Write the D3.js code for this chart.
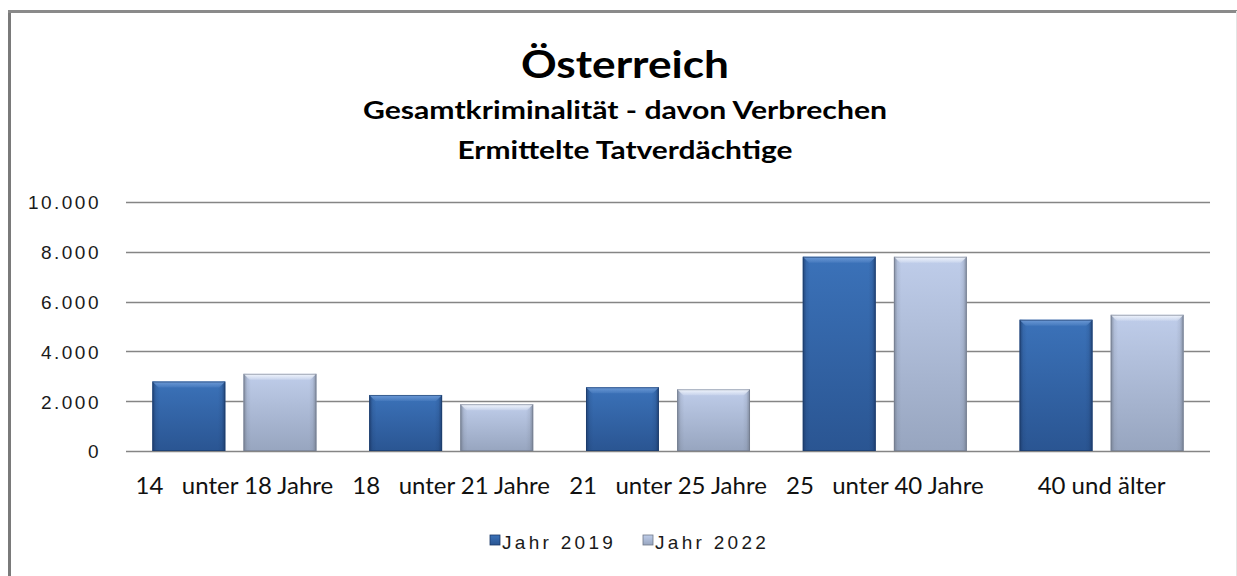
<!DOCTYPE html>
<html>
<head>
<meta charset="utf-8">
<script src="https://cdn.jsdelivr.net/npm/d3@7"></script>
<style>
  html, body { margin: 0; padding: 0; background: #fff; }
  svg { display: block; }
  text { white-space: pre; }
</style>
</head>
<body>
<svg id="chart" width="1237" height="576"></svg>
<script>
// Age groups of suspects
const categories = [
  "14   unter 18 Jahre",
  "18   unter 21 Jahre",
  "21   unter 25 Jahre",
  "25   unter 40 Jahre",
  "40 und älter"
];
const seriesNames = ["Jahr 2019", "Jahr 2022"];
const values2019 = [2790, 2250, 2560, 7800, 5270];
const values2022 = [3100, 1880, 2480, 7800, 5470];
const yTicks = [0, 2000, 4000, 6000, 8000, 10000];

const titleText = "Österreich";
const subtitle1 = "Gesamtkriminalität - davon Verbrechen";
const subtitle2 = "Ermittelte Tatverdächtige";

const svg = d3.select("#chart");
const W = 1237, H = 576;
const margin = { left: 126, right: 27, top: 202, bottom: 125 };

const rows = categories.map((c, i) => ({ cat: c, vals: [values2019[i], values2022[i]] }));

// Frame of the chart area
svg.append("line").attr("x1", 9.5).attr("x2", 9.5).attr("y1", 10).attr("y2", H)
  .attr("stroke", "#7a7a7a").attr("stroke-width", 3);
svg.append("line").attr("x1", 8).attr("x2", W).attr("y1", 11.5).attr("y2", 11.5)
  .attr("stroke", "#8a8a8a").attr("stroke-width", 3);
svg.append("line").attr("x1", 1236.5).attr("x2", 1236.5).attr("y1", 11).attr("y2", H)
  .attr("stroke", "#e4e4e4").attr("stroke-width", 1);

// Titles
const cx = 625;
svg.append("text").attr("x", cx).attr("y", 78).attr("text-anchor", "middle")
  .attr("font-family", "Lato, 'Open Sans', sans-serif").attr("font-weight", 700)
  .attr("font-size", 38).attr("fill", "#000")
  .attr("textLength", 208).attr("lengthAdjust", "spacingAndGlyphs")
  .text(titleText);
svg.append("text").attr("x", cx).attr("y", 119).attr("text-anchor", "middle")
  .attr("font-family", "Lato, 'Open Sans', sans-serif").attr("font-weight", 700)
  .attr("font-size", 25).attr("fill", "#000")
  .attr("textLength", 524).attr("lengthAdjust", "spacingAndGlyphs")
  .text(subtitle1);
svg.append("text").attr("x", cx).attr("y", 159).attr("text-anchor", "middle")
  .attr("font-family", "Lato, 'Open Sans', sans-serif").attr("font-weight", 700)
  .attr("font-size", 25).attr("fill", "#000")
  .attr("textLength", 335).attr("lengthAdjust", "spacingAndGlyphs")
  .text(subtitle2);

// Scales
const x0 = d3.scaleBand().domain(categories)
  .range([margin.left, W - margin.right])
  .paddingInner(0.2435).paddingOuter(0.2435 / 2);
const x1 = d3.scaleBand().domain(seriesNames)
  .range([0, x0.bandwidth()]).paddingInner(0.2).paddingOuter(0);
const y = d3.scaleLinear().domain([0, 10000]).range([H - margin.bottom, margin.top]);

// Gridlines
svg.append("g").selectAll("line").data(yTicks).join("line")
  .attr("x1", margin.left).attr("x2", W - margin.right)
  .attr("y1", d => Math.round(y(d)) + 0.5).attr("y2", d => Math.round(y(d)) + 0.5)
  .attr("stroke", "#858585").attr("stroke-width", 1.6);

// Y axis labels
const fmt = d => d3.format(",")(d).replace(/,/g, ".");
const yAxis = d3.axisLeft(y).tickValues(yTicks).tickFormat(fmt).tickSize(0).tickPadding(25);
const gy = svg.append("g").attr("transform", `translate(${margin.left},0)`).call(yAxis);
gy.select(".domain").remove();
gy.selectAll("text")
  .attr("font-family", "'Liberation Sans', Arial, sans-serif")
  .attr("font-size", 19).attr("fill", "#1a1a1a")
  .attr("letter-spacing", "2.5px")
  .attr("dy", "0.36em");

// Gradients for the bevelled bars
const defs = svg.append("defs");
const palettes = [
  { id: "dark", top: "#3b72b9", bottom: "#2a5592", hi: "#6d9ad6", edge: "#1b3866" },
  { id: "light", top: "#bfcdea", bottom: "#97a5bf", hi: "#f2f6fd", edge: "#6f7888" }
];
palettes.forEach(p => {
  const v = defs.append("linearGradient").attr("id", "v-" + p.id)
    .attr("x1", 0).attr("y1", 0).attr("x2", 0).attr("y2", 1);
  v.append("stop").attr("offset", "0%").attr("stop-color", p.top);
  v.append("stop").attr("offset", "100%").attr("stop-color", p.bottom);
  const h = defs.append("linearGradient").attr("id", "h-" + p.id)
    .attr("x1", 0).attr("y1", 0).attr("x2", 1).attr("y2", 0);
  h.append("stop").attr("offset", "0%").attr("stop-color", p.edge).attr("stop-opacity", 0.75);
  h.append("stop").attr("offset", "5%").attr("stop-color", p.edge).attr("stop-opacity", 0.15);
  h.append("stop").attr("offset", "10%").attr("stop-color", p.edge).attr("stop-opacity", 0);
  h.append("stop").attr("offset", "90%").attr("stop-color", p.edge).attr("stop-opacity", 0);
  h.append("stop").attr("offset", "95%").attr("stop-color", p.edge).attr("stop-opacity", 0.15);
  h.append("stop").attr("offset", "100%").attr("stop-color", p.edge).attr("stop-opacity", 0.75);
  const t = defs.append("linearGradient").attr("id", "t-" + p.id)
    .attr("x1", 0).attr("y1", 0).attr("x2", 0).attr("y2", 1);
  t.append("stop").attr("offset", "0%").attr("stop-color", p.hi).attr("stop-opacity", 1);
  t.append("stop").attr("offset", "100%").attr("stop-color", p.hi).attr("stop-opacity", 0.2);
});

// Bars
const groups = svg.append("g").selectAll("g").data(rows).join("g")
  .attr("transform", d => `translate(${x0(d.cat)},0)`);

const bars = groups.selectAll("g.bar")
  .data(d => d.vals.map((v, i) => ({ v, s: seriesNames[i], p: palettes[i] })))
  .join("g").attr("class", "bar");

const bw = x1.bandwidth();
const bevel = 6;
bars.append("rect")
  .attr("x", d => x1(d.s)).attr("y", d => y(d.v))
  .attr("width", bw).attr("height", d => y(0) - y(d.v))
  .attr("fill", d => `url(#v-${d.p.id})`);
bars.append("rect")
  .attr("x", d => x1(d.s)).attr("y", d => y(d.v))
  .attr("width", bw).attr("height", d => y(0) - y(d.v))
  .attr("fill", d => `url(#h-${d.p.id})`);
bars.append("path")
  .attr("d", d => {
    const l = x1(d.s), r = l + bw, t = y(d.v);
    return `M${l},${t} L${r},${t} L${r - bevel},${t + bevel} L${l + bevel},${t + bevel} Z`;
  })
  .attr("fill", d => `url(#t-${d.p.id})`);
bars.append("rect")
  .attr("x", d => x1(d.s) + 0.5).attr("y", d => y(d.v) + 0.5)
  .attr("width", bw - 1).attr("height", d => y(0) - y(d.v) - 1)
  .attr("fill", "none").attr("stroke", d => d.p.edge).attr("stroke-opacity", 0.6)
  .attr("stroke-width", 1);

// Category labels
svg.append("g").selectAll("text").data(categories).join("text")
  .attr("x", d => x0(d) + x0.bandwidth() / 2)
  .attr("y", y(0) + 43)
  .attr("text-anchor", "middle")
  .attr("font-family", "Lato, 'Open Sans', sans-serif")
  .attr("font-size", 24).attr("fill", "#111")
  .text(d => d);

// Legend
const legendItems = [
  { name: seriesNames[0], p: palettes[0], x: 490 },
  { name: seriesNames[1], p: palettes[1], x: 643 }
];
const lg = svg.append("g").selectAll("g").data(legendItems).join("g")
  .attr("transform", d => `translate(${d.x},535)`);
lg.append("rect").attr("width", 10).attr("height", 10)
  .attr("fill", d => `url(#v-${d.p.id})`)
  .attr("stroke", d => d.p.edge).attr("stroke-width", 0.8);
lg.append("text").attr("x", 12).attr("y", 14)
  .attr("font-family", "'Liberation Sans', Arial, sans-serif")
  .attr("font-size", 19).attr("fill", "#1a1a1a")
  .attr("letter-spacing", "3.3px")
  .text(d => d.name);
</script>
</body>
</html>
